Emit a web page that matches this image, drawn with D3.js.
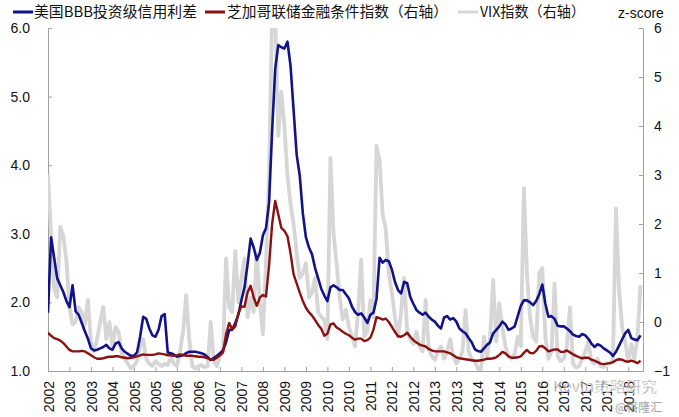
<!DOCTYPE html>
<html><head><meta charset="utf-8">
<script src="https://cdn.jsdelivr.net/npm/d3@7/dist/d3.min.js"></script>
<style>
html,body{margin:0;padding:0;background:#fff;}
svg{display:block;}
</style></head>
<body><svg id="chart" width="679" height="417"></svg>
<script>
// Monthly samples starting Sep 2002 (index 0), through late 2018
const startLabel = "2002-09";
const bbbSpread = [1.85,2.95,2.65,2.35,2.25,2.15,2.02,1.93,2.25,1.87,
1.82,1.70,1.58,1.47,1.33,1.30,1.31,1.33,1.35,1.38,
1.33,1.31,1.40,1.42,1.33,1.28,1.25,1.22,1.22,1.27,
1.50,1.79,1.76,1.62,1.52,1.50,1.60,1.80,1.83,1.27,
1.26,1.24,1.21,1.22,1.23,1.26,1.28,1.28,1.28,1.27,
1.26,1.24,1.20,1.16,1.19,1.22,1.26,1.30,1.42,1.60,
1.60,1.70,1.82,2.03,2.22,2.55,2.93,2.80,2.62,2.72,
2.98,3.08,3.45,4.50,5.40,5.75,5.72,5.70,5.80,5.45,
4.80,4.15,3.85,3.30,2.95,2.80,2.70,2.50,2.35,2.20,
2.10,2.02,2.22,2.25,2.22,2.18,2.18,2.12,2.06,1.94,
1.86,1.82,1.84,1.78,1.70,1.82,1.85,2.05,2.65,2.58,
2.62,2.60,2.48,2.30,2.18,2.13,2.30,2.28,2.08,1.98,
1.89,1.85,1.82,1.85,1.79,1.75,1.72,1.66,1.62,1.78,
1.80,1.75,1.77,1.72,1.62,1.58,1.55,1.48,1.42,1.32,
1.29,1.28,1.33,1.38,1.42,1.55,1.60,1.65,1.72,1.68,
1.60,1.62,1.65,1.80,1.95,2.03,2.03,2.00,1.96,2.02,
2.12,2.26,1.98,1.79,1.80,1.76,1.66,1.65,1.65,1.62,
1.58,1.53,1.51,1.50,1.54,1.52,1.47,1.40,1.35,1.39,
1.37,1.33,1.30,1.27,1.22,1.28,1.37,1.46,1.55,1.60,
1.48,1.46,1.45,1.52];

const nfci = [-0.22,-0.28,-0.33,-0.35,-0.38,-0.43,-0.50,-0.57,-0.60,-0.60,
-0.60,-0.59,-0.60,-0.64,-0.68,-0.72,-0.75,-0.75,-0.74,-0.72,
-0.71,-0.71,-0.70,-0.70,-0.72,-0.73,-0.74,-0.73,-0.72,-0.70,
-0.68,-0.66,-0.67,-0.67,-0.67,-0.66,-0.64,-0.65,-0.66,-0.68,
-0.68,-0.69,-0.68,-0.66,-0.67,-0.69,-0.69,-0.69,-0.70,-0.71,
-0.71,-0.72,-0.74,-0.77,-0.77,-0.73,-0.68,-0.62,-0.25,-0.02,
-0.15,-0.09,0.18,0.32,0.31,0.60,0.74,0.50,0.33,0.50,
0.55,0.52,1.15,2.00,2.47,2.20,1.92,1.86,1.75,1.40,
0.97,0.79,0.60,0.43,0.29,0.20,0.13,0.04,-0.06,-0.14,
-0.28,-0.24,-0.05,-0.03,-0.11,-0.15,-0.20,-0.24,-0.27,-0.32,
-0.36,-0.34,-0.34,-0.39,-0.37,-0.32,-0.16,0.10,0.08,0.05,
0.07,0.00,-0.10,-0.20,-0.29,-0.30,-0.27,-0.22,-0.30,-0.37,
-0.42,-0.46,-0.48,-0.50,-0.55,-0.58,-0.60,-0.60,-0.60,-0.60,
-0.62,-0.64,-0.68,-0.72,-0.74,-0.75,-0.76,-0.77,-0.78,-0.79,
-0.79,-0.78,-0.77,-0.75,-0.75,-0.74,-0.72,-0.67,-0.61,-0.64,
-0.70,-0.73,-0.73,-0.72,-0.70,-0.63,-0.57,-0.63,-0.64,-0.59,
-0.50,-0.49,-0.54,-0.60,-0.58,-0.56,-0.56,-0.61,-0.61,-0.58,
-0.62,-0.66,-0.69,-0.72,-0.74,-0.73,-0.73,-0.77,-0.79,-0.82,
-0.85,-0.86,-0.85,-0.84,-0.82,-0.78,-0.76,-0.77,-0.80,-0.81,
-0.79,-0.81,-0.84,-0.79];

const vixZ = [3.0,1.8,0.7,0.5,1.94,1.75,1.25,0.3,-0.05,0.0,
0.3,0.2,-0.05,0.45,-0.4,-0.6,-0.35,0.0,0.31,-0.35,
0.0,-0.5,-0.1,-0.2,-0.64,-0.75,-0.85,-0.95,-0.9,-0.8,
-0.5,-0.35,-0.75,-0.85,-0.9,-0.8,-0.85,-0.9,-0.85,-0.88,
-0.72,-0.85,-0.9,-0.6,-0.2,0.55,-0.35,-0.9,-0.95,-0.9,
-0.88,-0.92,-0.9,0.0,-0.8,-0.9,-0.7,-0.6,1.3,0.3,
0.2,1.45,0.4,0.9,1.3,0.1,0.5,0.2,1.4,0.4,
-0.25,1.2,3.0,6.3,6.3,3.8,4.7,4.0,3.0,2.4,
2.0,1.4,0.9,1.0,1.2,0.5,0.6,0.9,0.2,0.1,
0.05,-0.35,3.35,1.8,1.2,0.5,0.05,0.25,-0.1,-0.3,
-0.5,0.2,1.27,-0.3,-0.2,0.45,0.1,3.6,3.3,2.2,
1.9,1.0,0.6,0.1,-0.3,0.2,0.9,-0.2,-0.35,-0.45,
-0.2,-0.5,-0.6,0.45,-0.55,-0.7,-0.77,-0.6,-0.5,-0.75,
-0.6,-0.35,-0.7,-0.85,-0.75,-0.6,0.24,-0.6,-0.75,-0.8,
-0.95,-0.98,-0.3,-0.7,-0.3,0.86,-0.4,0.38,-0.1,-0.5,
-0.7,-0.75,-0.65,-0.3,-0.5,2.73,1.0,0.1,-0.3,-0.4,
1.0,1.1,-0.3,-0.75,-0.6,0.79,-0.7,-0.8,-0.75,-0.5,
0.3,-0.85,-0.93,-0.9,-0.75,-0.6,-0.4,-0.8,-0.85,-0.75,
-0.9,-0.92,-0.85,-0.85,-0.8,2.32,0.65,-0.1,-0.4,-0.8,
-0.45,-0.75,-0.3,0.75];

const xTickLabels = ["2002","2003","2003","2004","2005","2005","2006","2006","2007","2007",
"2008","2009","2009","2010","2010","2011","2012","2012","2013","2013",
"2014","2014","2015","2016","2016","2017","2017","2018"];
const tickStepMonths = 7;
const leftTicks = [1,2,3,4,5,6];
const rightTicks = [-1,0,1,2,3,4,5,6];
const legendLabels = ["美国BBB投资级信用利差","芝加哥联储金融条件指数（右轴）","VIX指数（右轴）"];
const colors = ["#12128a","#8b1010","#d6d6d6"];

const svg = d3.select("#chart");
const L = 48, R = 643, T = 28, B = 371;
const x = d3.scaleLinear().domain([0, 193.8]).range([L, R]);
const yL = d3.scaleLinear().domain([1, 6]).range([B, T]);
const yR = d3.scaleLinear().domain([-1, 6]).range([B, T]);

svg.append("defs").append("clipPath").attr("id","clip")
  .append("rect").attr("x", L).attr("y", T).attr("width", R - L).attr("height", B - T);

const font = "'Liberation Sans', Arial, sans-serif";
const axisColor = "#a0a0a0";

// axes
const gx = svg.append("g").attr("transform", `translate(0,${B})`)
  .call(d3.axisBottom(x)
    .tickValues(xTickLabels.map((d, i) => i * tickStepMonths))
    .tickFormat((d, i) => xTickLabels[i])
    .tickSizeInner(-4).tickSizeOuter(0));
gx.selectAll("text")
  .attr("transform", "rotate(-90)")
  .attr("text-anchor", "end")
  .attr("x", -10).attr("y", 0).attr("dy", "0.36em");

const gl = svg.append("g").attr("transform", `translate(${L},0)`)
  .call(d3.axisLeft(yL).tickValues(leftTicks).tickFormat(d3.format(".1f"))
    .tickSizeInner(-4).tickSizeOuter(0).tickPadding(18));
const gr = svg.append("g").attr("transform", `translate(${R},0)`)
  .call(d3.axisRight(yR).tickValues(rightTicks).tickFormat(d3.format("d"))
    .tickSizeInner(-4).tickSizeOuter(0).tickPadding(11));

[gx, gl, gr].forEach(g => {
  g.select(".domain").attr("stroke", axisColor);
  g.selectAll(".tick line").attr("stroke", axisColor);
  g.selectAll("text").attr("font-family", font).attr("font-size", 14).attr("fill", "#111");
});

// lines
const plot = svg.append("g").attr("clip-path", "url(#clip)");
const lineR = d3.line().x((d, i) => x(i)).y(d => yR(d));
const lineL = d3.line().x((d, i) => x(i)).y(d => yL(d));
plot.append("path").datum(vixZ).attr("d", lineR)
  .attr("fill", "none").attr("stroke", colors[2]).attr("stroke-width", 3.8).attr("stroke-linejoin", "round");
plot.append("path").datum(bbbSpread).attr("d", lineL)
  .attr("fill", "none").attr("stroke", colors[0]).attr("stroke-width", 2.6).attr("stroke-linejoin", "round");
plot.append("path").datum(nfci).attr("d", lineR)
  .attr("fill", "none").attr("stroke", colors[1]).attr("stroke-width", 2.4).attr("stroke-linejoin", "round");

// legend
const cjk = "'Noto Sans CJK SC', sans-serif";
const legendItems = [
  {x0: 13, tx: 34, len: 163},
  {x0: 205, tx: 227, len: 221},
  {x0: 458, tx: 480, len: 105}
];
legendItems.forEach((it, i) => {
  svg.append("line").attr("x1", it.x0).attr("x2", it.x0 + 20).attr("y1", 12).attr("y2", 12)
    .attr("stroke", colors[i]).attr("stroke-width", 3);
  svg.append("text").attr("x", it.tx).attr("y", 17).text(legendLabels[i])
    .attr("font-family", cjk).attr("font-size", 14.5).attr("fill", "#111")
    .attr("textLength", it.len).attr("lengthAdjust", "spacingAndGlyphs");
});
svg.append("text").attr("x", 618).attr("y", 18).text("z-score")
  .attr("font-family", font).attr("font-size", 14).attr("fill", "#111");

// watermark
svg.append("text").attr("x", 553).attr("y", 392).text("Kevin策略研究")
  .attr("font-family", cjk).attr("font-size", 15).attr("fill", "#6e6e6e")
  .attr("stroke", "#fff").attr("stroke-width", 0.5).attr("opacity", 0.85)
  .attr("textLength", 104).attr("lengthAdjust", "spacingAndGlyphs");
svg.append("text").attr("x", 615).attr("y", 412).text("@格隆汇")
  .attr("font-family", cjk).attr("font-size", 12).attr("fill", "#999").attr("opacity", 0.9);
</script></body></html>
